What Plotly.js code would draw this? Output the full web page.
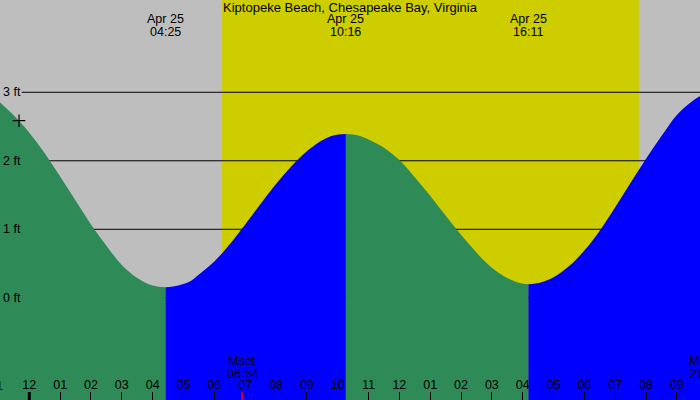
<!DOCTYPE html>
<html><head><meta charset="utf-8">
<script src="https://cdn.plot.ly/plotly-3.0.1.min.js"></script>
<style>html,body{margin:0;padding:0;background:#bebebe}#chart{width:700px;height:400px}</style>
</head><body><div id="chart"></div>
<script>
const chartTitle = "Kiptopeke Beach, Chesapeake Bay, Virginia";
const tideTimes = [
 "2024-04-24 23:03","2024-04-24 23:30","2024-04-25 00:00","2024-04-25 00:30","2024-04-25 01:00",
 "2024-04-25 01:30","2024-04-25 02:00","2024-04-25 02:30","2024-04-25 03:00","2024-04-25 03:30",
 "2024-04-25 04:00","2024-04-25 04:25","2024-04-25 04:50","2024-04-25 05:15","2024-04-25 05:30",
 "2024-04-25 06:00","2024-04-25 06:30","2024-04-25 07:00","2024-04-25 07:30","2024-04-25 08:00",
 "2024-04-25 08:30","2024-04-25 09:00","2024-04-25 09:30","2024-04-25 09:52","2024-04-25 10:16",
 "2024-04-25 10:40","2024-04-25 11:00","2024-04-25 11:30","2024-04-25 12:00","2024-04-25 12:30",
 "2024-04-25 13:00","2024-04-25 13:30","2024-04-25 14:00","2024-04-25 14:30","2024-04-25 15:00",
 "2024-04-25 15:30","2024-04-25 15:50","2024-04-25 16:11","2024-04-25 16:35","2024-04-25 17:00",
 "2024-04-25 17:30","2024-04-25 18:00","2024-04-25 18:30","2024-04-25 19:00","2024-04-25 19:30",
 "2024-04-25 20:00","2024-04-25 20:30","2024-04-25 21:00","2024-04-25 21:30","2024-04-25 21:46"];
const tideFeet = [
 2.85,2.66,2.41,2.11,1.77,
 1.42,1.07,0.76,0.48,0.29,
 0.18,0.153,0.18,0.25,0.34,
 0.53,0.78,1.07,1.37,1.66,
 1.92,2.14,2.30,2.37,2.39,
 2.37,2.31,2.19,2.01,1.76,
 1.49,1.20,0.92,0.66,0.44,
 0.29,0.225,0.197,0.225,0.30,
 0.46,0.69,0.98,1.32,1.68,
 2.03,2.36,2.67,2.87,2.95];
const extremeTimes = ["2024-04-25 04:25","2024-04-25 10:16","2024-04-25 16:11"];
const extremeDates = ["Apr 25","Apr 25","Apr 25"];
const extremeClock = ["04:25","10:16","16:11"];
const sunrise = "2024-04-25 06:15";
const sunset = "2024-04-25 19:46";
const moonNames = ["Mset","Mrise"];
const moonTimes = ["2024-04-25 06:54","2024-04-25 21:49"];
const moonClock = ["06:54","21:49"];
const nowTime = ["2024-04-24 23:40"];
const nowFeet = [2.585];
const levelVals = [0,1,2,3];
const levelText = ["0 ft","1 ft","2 ft","3 ft"];
const midnight = "2024-04-25 00:00";
const edgeHourLabel = "11";
const xRange = ["2024-04-24 23:03","2024-04-25 21:45"];
const yRange = [-1.492, 4.347];

const GREEN = "#2e8b57", BLUE = "#0000ff", YELLOW = "#cdcd00", GRAY = "#bebebe";
const font = {family: "Liberation Sans, Arial, sans-serif", size: 12.5, color: "#000"};
const titleFont = {family: "Liberation Sans, Arial, sans-serif", size: 13, color: "#000"};

const cut = [0];
extremeTimes.forEach(t => { const i = tideTimes.indexOf(t); if (i > 0) cut.push(i); });
cut.push(tideTimes.length - 1);
const traces = [];
for (let s = 0; s < cut.length - 1; s++) {
  const xs = tideTimes.slice(cut[s], cut[s+1] + 1);
  const ys = tideFeet.slice(cut[s], cut[s+1] + 1);
  const rising = ys[ys.length-1] > ys[0];
  traces.push({x: xs, y: xs.map(() => yRange[0] - 1), mode: "lines", line: {width: 0}, hoverinfo: "skip", showlegend: false});
  traces.push({x: xs, y: ys, mode: "lines", line: {width: 0, shape: "spline", color: rising ? BLUE : GREEN},
    fill: "tonexty", fillcolor: rising ? BLUE : GREEN, showlegend: false});
}
traces.push({x: nowTime, y: nowFeet, mode: "markers", marker: {symbol: "cross-thin", size: 9, line: {width: 1.2, color: "#000"}}, showlegend: false});

const t0 = new Date(xRange[0].replace(" ", "T")).getTime();
const t1 = new Date(xRange[1].replace(" ", "T")).getTime();
const frac = t => (new Date(t.replace(" ", "T")).getTime() - t0) / (t1 - t0);

const shapes = [
  {type: "rect", layer: "below", xref: "x", yref: "paper", x0: sunrise, x1: sunset, y0: 0, y1: 1, fillcolor: YELLOW, line: {width: 0}}
];
levelVals.forEach(v => shapes.push({type: "line", layer: "below", xref: "paper", yref: "y", x0: 0.031, x1: 1, y0: v, y1: v, line: {color: "#000", width: 1}}));
shapes.push({type: "line", xref: "x", yref: "paper", x0: midnight, x1: midnight, y0: 0, y1: 0.02, line: {color: "#000", width: 3}});
moonTimes.forEach(t => shapes.push({type: "line", xref: "x", yref: "paper", x0: t, x1: t, y0: 0, y1: 0.02, line: {color: "#ff0000", width: 1.5}}));

const annotations = [];
extremeTimes.forEach((t, i) => {
  annotations.push({x: t, xref: "x", yref: "paper", y: 1 - 19/400, text: extremeDates[i], showarrow: false, font: font, yanchor: "middle"});
  annotations.push({x: t, xref: "x", yref: "paper", y: 1 - 32/400, text: extremeClock[i], showarrow: false, font: font, yanchor: "middle"});
});
moonTimes.forEach((t, i) => {
  const f = frac(t);
  const edge = f > 0.97;
  const a1 = {x: edge ? 1 : f, xref: "paper", yref: "paper", y: 1 - 361/400, text: moonNames[i], showarrow: false, font: font, yanchor: "middle"};
  const a2 = {x: edge ? 1 : f, xref: "paper", yref: "paper", y: 1 - 374/400, text: moonClock[i], showarrow: false, font: font, yanchor: "middle"};
  if (edge) { a1.xanchor = "left"; a2.xanchor = "left"; a1.xshift = -13; a2.xshift = -13; }
  annotations.push(a1, a2);
});
annotations.push({x: 0, xref: "paper", yref: "paper", y: 1 - 386/400, text: edgeHourLabel, showarrow: false, font: font, xanchor: "right", xshift: 5, yanchor: "middle"});
levelVals.forEach((v, i) => annotations.push({x: 0, xref: "paper", y: v, yref: "y", text: levelText[i], showarrow: false, font: font, xanchor: "left", xshift: 1}));

const layout = {
  width: 700, height: 400,
  margin: {l: 0, r: 0, t: 0, b: 0, pad: 0},
  paper_bgcolor: GRAY, plot_bgcolor: GRAY,
  title: {text: chartTitle, font: titleFont, x: 0.5, xanchor: "center", y: 1 - 7/400, yanchor: "middle", yref: "container"},
  xaxis: {type: "date", range: xRange, showgrid: false, zeroline: false, showline: false,
    dtick: 3600000, tickformat: "%I", ticks: "inside", ticklen: 8, tickcolor: "#000", tickwidth: 1,
    ticklabelposition: "inside", tickfont: font, fixedrange: true},
  yaxis: {range: yRange, showgrid: false, zeroline: false, showline: false, showticklabels: false, fixedrange: true},
  shapes: shapes, annotations: annotations, showlegend: false
};
Plotly.newPlot("chart", traces, layout, {displayModeBar: false, staticPlot: true});
</script></body></html>
